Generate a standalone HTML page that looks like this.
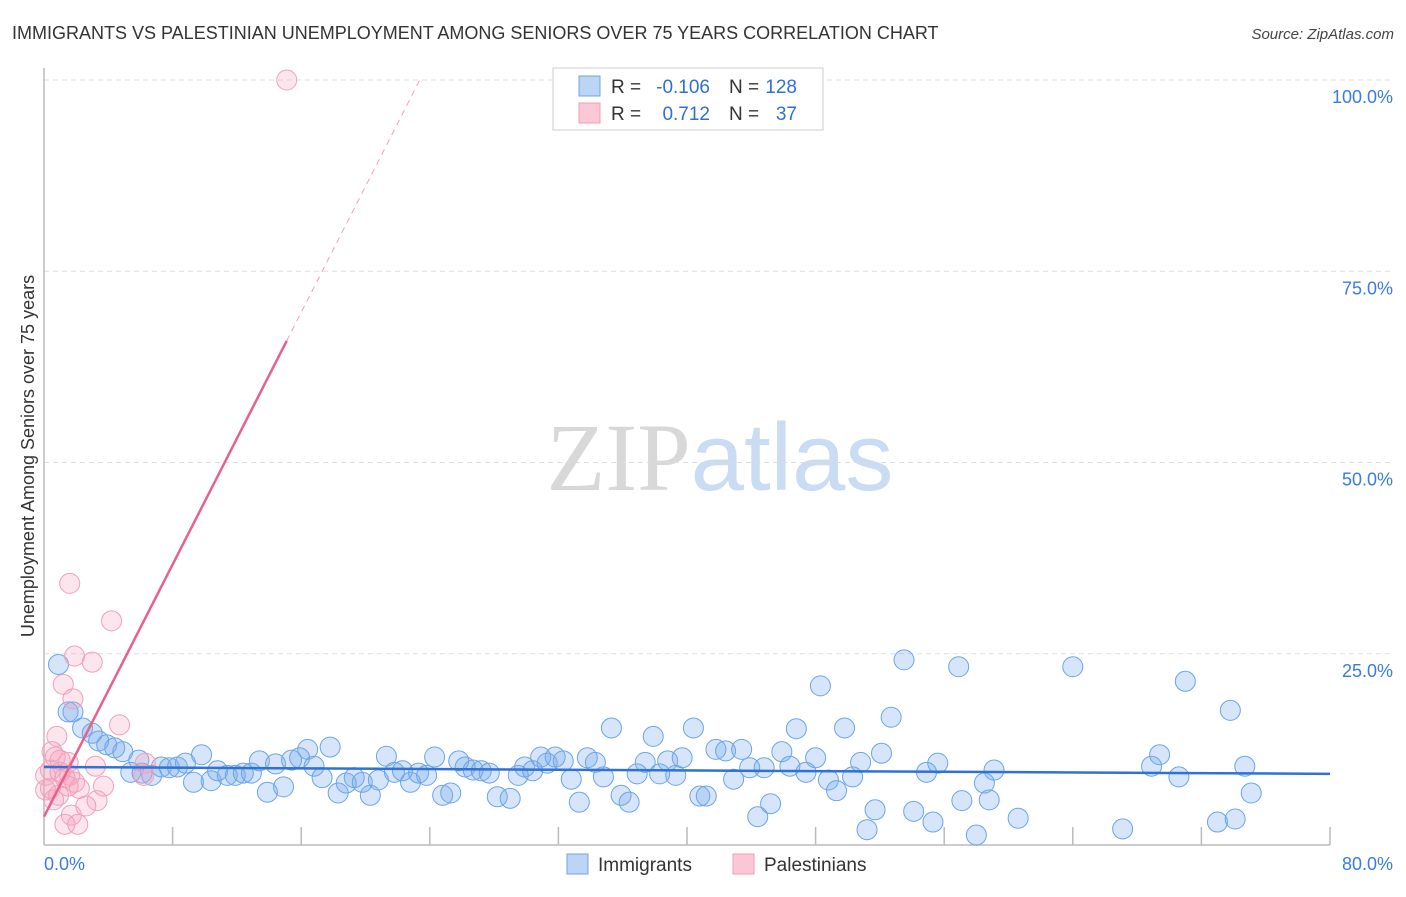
<!DOCTYPE html>
<html><head><meta charset="utf-8"><style>
body{margin:0;background:#fff;font-family:"Liberation Sans",sans-serif}
svg text{font-family:"Liberation Sans",sans-serif}
</style></head><body>
<svg id="chart" width="1406" height="892" xmlns="http://www.w3.org/2000/svg">
<text x="12" y="39" font-size="18" fill="#333">IMMIGRANTS VS PALESTINIAN UNEMPLOYMENT AMONG SENIORS OVER 75 YEARS CORRELATION CHART</text>
<text x="1394" y="39" font-size="15" fill="#444" text-anchor="end" font-style="italic">Source: ZipAtlas.com</text>
<text x="720" y="490" font-size="96" text-anchor="middle"><tspan fill="#d8d8d8" font-family="Liberation Serif">ZIP</tspan><tspan fill="#c9dcf3">atlas</tspan></text>
<text transform="translate(34,456) rotate(-90)" font-size="18" fill="#333" text-anchor="middle">Unemployment Among Seniors over 75 years</text>
<g id="grid"></g><g id="axes"></g><g id="marks"></g>
<g>
<rect x="553" y="68" width="270" height="62" fill="#fff" stroke="#ccc"/>
<rect x="579" y="76" width="21" height="20" fill="#bcd5f5" stroke="#6fa4e6"/>
<rect x="579" y="103" width="21" height="20" fill="#fcc7d6" stroke="#f09cb6"/>
<text x="611" y="93" font-size="19" fill="#333">R =</text>
<text x="710" y="93" font-size="19" fill="#2f6fd6" text-anchor="end">-0.106</text>
<text x="729" y="93" font-size="19" fill="#333">N =</text>
<text x="797" y="93" font-size="19" fill="#2f6fd6" text-anchor="end">128</text>
<text x="611" y="120" font-size="19" fill="#333">R =</text>
<text x="710" y="120" font-size="19" fill="#2f6fd6" text-anchor="end">0.712</text>
<text x="729" y="120" font-size="19" fill="#333">N =</text>
<text x="797" y="120" font-size="19" fill="#2f6fd6" text-anchor="end">37</text>
</g>
<g>
<rect x="567" y="854" width="21" height="20" fill="#bcd5f5" stroke="#6fa4e6"/>
<text x="598" y="871" font-size="19" fill="#333">Immigrants</text>
<rect x="733" y="854" width="21" height="20" fill="#fcc7d6" stroke="#f09cb6"/>
<text x="764" y="871" font-size="19" fill="#333">Palestinians</text>
</g>
</svg>
<script>
const blueX=[0.9,1.5,1.8,2.4,3.0,3.4,3.9,4.4,4.9,5.9,5.4,6.1,6.7,7.3,7.8,8.3,8.8,9.3,9.8,10.4,10.8,11.4,11.9,12.4,12.9,13.4,13.9,14.4,14.9,15.4,15.9,16.4,16.8,17.3,17.8,18.3,18.8,19.3,19.8,20.3,20.8,21.3,21.8,22.3,22.8,23.3,23.8,24.3,24.8,25.3,25.8,26.2,26.7,27.2,27.7,28.2,29.0,29.5,29.9,30.4,30.9,31.3,31.8,32.3,32.8,33.3,33.8,34.3,34.8,35.3,35.9,36.4,36.9,37.4,37.9,38.3,38.8,39.3,39.7,40.4,40.8,41.2,41.8,42.4,42.9,43.4,43.9,44.4,44.8,45.2,45.9,46.4,46.8,47.4,48.0,48.3,48.8,49.3,49.8,50.3,50.8,51.2,51.7,52.1,52.7,53.5,54.1,54.9,55.3,55.6,56.9,57.1,58.0,58.5,58.8,59.1,60.6,64.0,67.1,68.9,69.4,70.6,71.0,73.0,73.8,74.1,74.7,75.1];
const blueY=[23.6,17.4,17.4,15.3,14.6,13.6,13.1,12.7,12.2,11.1,9.5,9.4,9.1,10.2,10.1,10.2,10.7,8.2,11.8,8.4,9.7,9.1,9.1,9.4,9.4,11.0,6.9,10.6,7.6,11.1,11.4,12.5,10.3,8.8,12.8,6.8,8.1,8.8,8.2,6.5,8.5,11.6,9.5,9.7,8.2,9.4,9.1,11.5,6.5,6.8,11.0,10.2,9.8,9.7,9.4,6.3,6.1,9.1,10.2,9.7,11.5,10.7,11.5,11.0,8.6,5.6,11.4,10.8,8.9,15.3,6.5,5.6,9.3,10.8,14.2,9.3,11.0,9.1,11.4,15.3,6.4,6.4,12.5,12.3,8.6,12.5,10.1,3.7,10.1,5.4,12.2,10.3,15.2,9.5,11.4,20.8,8.5,7.1,15.3,8.9,10.8,2.0,4.6,12.0,16.7,24.2,4.4,9.5,3.0,10.7,23.3,5.8,1.3,8.1,5.9,9.8,3.5,23.3,2.1,10.3,11.8,8.9,21.4,3.0,17.6,3.4,10.3,6.8];
const pinkX=[15.1,1.6,4.2,3.0,1.9,1.2,1.8,4.7,0.8,0.5,0.7,1.5,6.3,3.2,0.4,1.0,0.1,1.6,6.2,1.3,1.9,0.4,1.5,3.7,2.2,0.9,3.3,2.6,1.7,1.3,2.1,0.6,0.1,1.0];
const pinkY=[100,34.2,29.3,23.9,24.7,21.0,19.1,15.7,14.2,12.2,11.5,10.8,10.7,10.3,9.8,9.5,9.1,9.1,9.1,8.8,8.2,7.4,7.7,7.7,7.4,6.5,5.8,5.1,3.9,2.7,2.7,5.9,7.2,11.1];
const yTicks=[25,50,75,100];
const blueTrend=[10.2,9.3];
const pinkTrend=[3.7,4.12];
const NS="http://www.w3.org/2000/svg";
const X=v=>44+v/80*1286, Y=v=>845-v/100*765;
function mk(t,a,p){const e=document.createElementNS(NS,t);for(const k in a)e.setAttribute(k,a[k]);document.getElementById(p).appendChild(e);return e;}
yTicks.forEach(t=>{
 const l=mk('line',{x1:44,x2:1394,y1:Y(t),y2:Y(t),stroke:'#ddd','stroke-dasharray':'5,4'},'grid');
 
 
 const tx=mk('text',{x:1393,y:Y(t)+23,'font-size':18,fill:'#3a7be0','text-anchor':'end'},'grid');
 tx.textContent=t.toFixed(1)+'%';
 
 
});
let ax=mk('line',{x1:44,x2:1330,y1:845,y2:845,stroke:'#bbb','stroke-width':1.5},'axes');


let ay=mk('line',{x1:44,x2:44,y1:68,y2:845,stroke:'#bbb','stroke-width':1.5},'axes');


for(let i=1;i<=10;i++){const tk=mk('line',{x1:X(i*8),x2:X(i*8),y1:827,y2:845,stroke:'#bbb','stroke-width':1.5},'axes');
 
 }
let l0=mk('text',{x:44,y:870,'font-size':18,fill:'#3a7be0'},'axes');l0.textContent='0.0%';


let l1=mk('text',{x:1393,y:870,'font-size':18,fill:'#3a7be0','text-anchor':'end'},'axes');l1.textContent='80.0%';


blueX.forEach((x,i)=>{const c=mk('circle',{cx:X(x),cy:Y(blueY[i]),r:10,fill:'rgba(120,170,235,0.3)',stroke:'#6aa5e8','stroke-width':1},'marks');
 
 });
pinkX.forEach((x,i)=>{const c=mk('circle',{cx:X(x),cy:Y(pinkY[i]),r:10,fill:'rgba(245,160,190,0.28)',stroke:'#f0a0ba','stroke-width':1},'marks');
 
 });
let bt=mk('line',{x1:X(0),y1:Y(blueTrend[0]),x2:X(80),y2:Y(blueTrend[1]),stroke:'#2f72d6','stroke-width':2.5},'marks');


const pEnd=15.1, pTop=(100-pinkTrend[0])/pinkTrend[1];
let pt=mk('line',{x1:X(0),y1:Y(pinkTrend[0]),x2:X(pEnd),y2:Y(pinkTrend[0]+pinkTrend[1]*pEnd),stroke:'#e8618c','stroke-width':2.5},'marks');


let pd=mk('line',{x1:X(pEnd),y1:Y(pinkTrend[0]+pinkTrend[1]*pEnd),x2:X(pTop),y2:Y(100),stroke:'#f0a0ba','stroke-width':1,'stroke-dasharray':'6,5'},'marks');


</script>
</body></html>
